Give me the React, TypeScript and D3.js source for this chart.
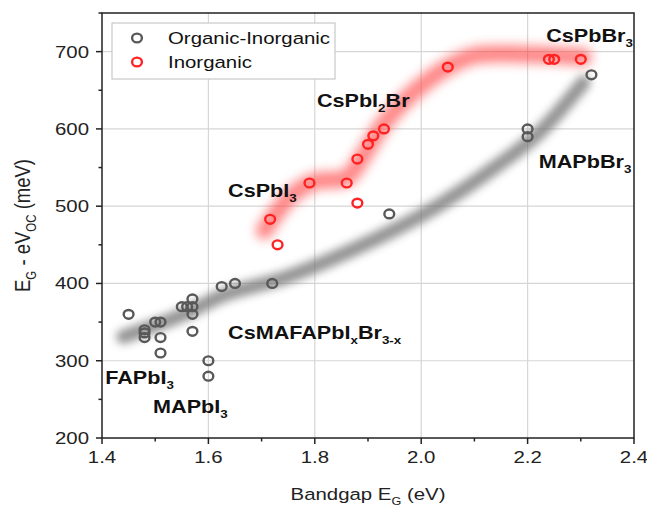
import React from "react";
import * as d3 from "d3";

// Organic-inorganic perovskites: [bandgap eV, Eg - eVoc meV]
const organicPts: [number, number][] = [
  [1.45, 360], [1.48, 340], [1.48, 336], [1.48, 330], [1.5, 350], [1.51, 350],
  [1.51, 330], [1.51, 310], [1.55, 370], [1.56, 370], [1.57, 380], [1.57, 370],
  [1.57, 360], [1.57, 338], [1.6, 300], [1.6, 280], [1.625, 396], [1.65, 400],
  [1.72, 400], [1.94, 490], [2.2, 600], [2.2, 590], [2.32, 670]
];

// All-inorganic perovskites
const inorganicPts: [number, number][] = [
  [1.716, 483], [1.73, 450], [1.79, 530], [1.86, 530], [1.88, 504], [1.88, 561],
  [1.9, 580], [1.91, 591], [1.93, 600], [2.05, 680], [2.24, 690], [2.25, 690],
  [2.3, 690]
];

// guide-to-the-eye trends
const organicTrend: [number, number][] = [
  [1.44, 331], [1.55, 359], [1.63, 385], [1.75, 409], [1.91, 456],
  [2.03, 500], [2.14, 551], [2.22, 594], [2.305, 660]
];
const inorganicTrend: [number, number][] = [
  [1.705, 468], [1.753, 512], [1.8, 532], [1.86, 537], [1.89, 564],
  [1.93, 607], [1.99, 650], [2.05, 680], [2.1, 695], [2.22, 696], [2.305, 693]
];

const xTicks = [1.4, 1.6, 1.8, 2.0, 2.2, 2.4];
const xMinor = [1.5, 1.7, 1.9, 2.1, 2.3];
const yTicks = [200, 300, 400, 500, 600, 700];
const yMinor = [250, 350, 450, 550, 650, 750];

// compound labels, alternating normal / subscript parts, anchored at data coords
const labels = [
  { x: 2.235, y: 713, parts: ["CsPbBr", "3"] },
  { x: 1.804, y: 629, parts: ["CsPbI", "2", "Br"] },
  { x: 1.637, y: 512, parts: ["CsPbI", "3"] },
  { x: 2.221, y: 549, parts: ["MAPbBr", "3"] },
  { x: 1.637, y: 328, parts: ["CsMAFAPbI", "x", "Br", "3-x"] },
  { x: 1.406, y: 270, parts: ["FAPbI", "3"] },
  { x: 1.496, y: 232, parts: ["MAPbI", "3"] }
];

const W = 647;
const H = 509;
const margin = { left: 102, right: 13, top: 13, bottom: 71 };
const GRAY = "#585858";
const RED = "#ff2222";
const FONT = "'Liberation Sans', Arial, sans-serif";
const SX = 1.2; // glyphs in the picture are horizontally stretched

function Sub({ parts, size }: { parts: string[]; size: number }) {
  return (
    <>
      {parts.map((p, i) =>
        i % 2 === 0 ? (
          <tspan key={i} fontSize={size} dy={i === 0 ? 0 : -5}>
            {p}
          </tspan>
        ) : (
          <tspan key={i} fontSize={size * 0.62} dy={5}>
            {p}
          </tspan>
        )
      )}
    </>
  );
}

function Marker({ cx, cy, color }: { cx: number; cy: number; color: string }) {
  return <ellipse cx={cx} cy={cy} rx={4.9} ry={4.4} fill="none" stroke={color} strokeWidth={2.4} />;
}

export default function App() {
  const x = d3.scaleLinear().domain([1.4, 2.4]).range([margin.left, W - margin.right]);
  const y = d3.scaleLinear().domain([200, 750]).range([H - margin.bottom, margin.top]);
  const [x0, x1] = x.range();
  const [y0, y1] = y.range();

  const line = d3
    .line<[number, number]>()
    .x((d) => x(d[0]))
    .y((d) => y(d[1]))
    .curve(d3.curveCatmullRom.alpha(0.5));

  return (
    <svg
      width={W}
      height={H}
      style={{ position: "absolute", left: 0, top: 0, background: "#fff" }}
      fontFamily={FONT}
    >
      <defs>
        <filter id="blur" x="-20%" y="-20%" width="140%" height="140%">
          <feGaussianBlur stdDeviation="4.5" />
        </filter>
        <filter id="blurR" x="-20%" y="-20%" width="140%" height="140%">
          <feGaussianBlur stdDeviation="5.5" />
        </filter>
      </defs>

      {/* grid */}
      {xTicks.slice(1, -1).map((t) => (
        <line key={"gx" + t} x1={x(t)} x2={x(t)} y1={y0} y2={y1} stroke="#d6d6d6" strokeWidth={1.2} />
      ))}
      {yTicks.slice(1).map((t) => (
        <line key={"gy" + t} x1={x0} x2={x1} y1={y(t)} y2={y(t)} stroke="#d6d6d6" strokeWidth={1.2} />
      ))}

      {/* trend bands */}
      <path d={line(organicTrend) || ""} fill="none" stroke="#707070" strokeWidth={14}
        strokeLinecap="round" opacity={0.75} filter="url(#blur)" />
      <path d={line(inorganicTrend) || ""} fill="none" stroke="#ff3a3a" strokeWidth={17}
        strokeLinecap="round" opacity={0.62} filter="url(#blurR)" />

      {/* frame */}
      <rect x={x0} y={y1} width={x1 - x0} height={y0 - y1} fill="none" stroke="#222" strokeWidth={1.5} />

      {/* x axis ticks */}
      {xTicks.map((t) => (
        <g key={"xt" + t}>
          <line x1={x(t)} x2={x(t)} y1={y0} y2={y0 + 6} stroke="#222" strokeWidth={1.5} />
          <text transform={`translate(${x(t)},${y0 + 25}) scale(${SX},1)`} textAnchor="middle"
            fontSize={17} fill="#222">
            {t.toFixed(1)}
          </text>
        </g>
      ))}
      {xMinor.map((t) => (
        <line key={"xm" + t} x1={x(t)} x2={x(t)} y1={y0} y2={y0 + 3.5} stroke="#222" strokeWidth={1.5} />
      ))}

      {/* y axis ticks */}
      {yTicks.map((t) => (
        <g key={"yt" + t}>
          <line x1={x0 - 6} x2={x0} y1={y(t)} y2={y(t)} stroke="#222" strokeWidth={1.5} />
          <text transform={`translate(${x0 - 13},${y(t) + 6}) scale(${SX},1)`} textAnchor="end"
            fontSize={17} fill="#222">
            {t}
          </text>
        </g>
      ))}
      {yMinor.map((t) => (
        <line key={"ym" + t} x1={x0 - 3.5} x2={x0} y1={y(t)} y2={y(t)} stroke="#222" strokeWidth={1.5} />
      ))}

      {/* axis titles */}
      <text transform={`translate(${(x0 + x1) / 2},${H - 9}) scale(${SX},1)`} textAnchor="middle"
        fontSize={17} fill="#222">
        <Sub parts={["Bandgap E", "G", " (eV)"]} size={17} />
      </text>
      <text transform={`translate(30,${(y0 + y1) / 2}) rotate(-90) scale(1,${SX})`} textAnchor="middle"
        fontSize={18.5} fill="#222">
        <Sub parts={["E", "G", " - eV", "OC", " (meV)"]} size={18.5} />
      </text>

      {/* points */}
      {organicPts.map((d, i) => (
        <Marker key={"o" + i} cx={x(d[0])} cy={y(d[1])} color={GRAY} />
      ))}
      {inorganicPts.map((d, i) => (
        <Marker key={"i" + i} cx={x(d[0])} cy={y(d[1])} color={RED} />
      ))}

      {/* labels */}
      {labels.map((l, i) => (
        <text key={"l" + i} transform={`translate(${x(l.x)},${y(l.y)}) scale(${SX},1)`} fontSize={18}
          fontWeight="bold" fill="#111">
          <Sub parts={l.parts} size={18} />
        </text>
      ))}

      {/* legend */}
      <g>
        <rect x={112} y={23} width={223} height={56} fill="#fff" stroke="#c8c8c8" strokeWidth={1.2} />
        <Marker cx={137} cy={38} color={GRAY} />
        <text transform={`translate(168,44) scale(${SX},1)`} fontSize={17} fill="#111">Organic-Inorganic</text>
        <Marker cx={137} cy={62} color={RED} />
        <text transform={`translate(168,68) scale(${SX},1)`} fontSize={17} fill="#111">Inorganic</text>
      </g>
    </svg>
  );
}
